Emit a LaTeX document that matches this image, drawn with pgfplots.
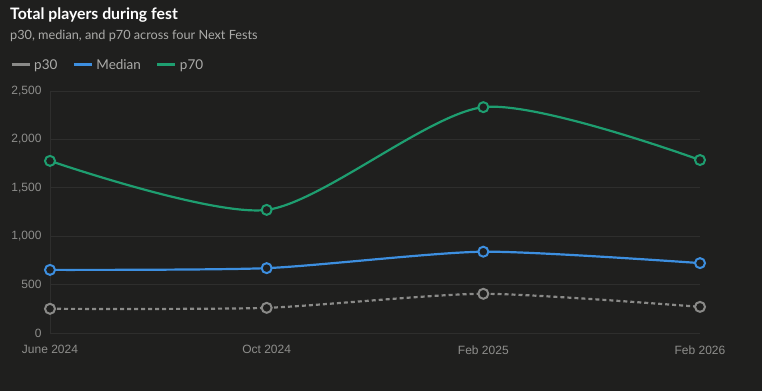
\documentclass[border=0pt]{standalone}
\usepackage{pgfplots}
\pgfplotsset{compat=1.18}
\usepackage{fontspec}
\setmainfont{Liberation Sans}
\newfontfamily\titlefont{Lato}
\definecolor{bg}{HTML}{1F1F1E}
\definecolor{gridc}{HTML}{2E2E2D}
\definecolor{tickc}{HTML}{8E8E8C}
\definecolor{cgray}{HTML}{8A8A88}
\definecolor{cblue}{HTML}{3D8FE0}
\definecolor{cgreen}{HTML}{1E9E70}
\definecolor{subc}{HTML}{ABABA9}
\begin{document}
\begin{tikzpicture}[x=1pt,y=1pt]
\fill[bg] (0,0) rectangle (762,391);
\node[anchor=base west, inner sep=0, text=white, font=\titlefont\bfseries\fontsize{15.8}{18}\selectfont] at (10,371) {Total players during fest};
\node[anchor=base west, inner sep=0, text=subc, font=\titlefont\fontsize{12.7}{15}\selectfont] at (10,351) {p30, median, and p70 across four Next Fests};
\begin{axis}[
  at={(50pt,58pt)}, anchor=origin,
  scale only axis, width=650pt, height=242pt,
  xmin=0, xmax=3, ymin=0, ymax=2500,
  axis line style={draw=none},
  xtick={0,1,2,3},
  xticklabels={June 2024, Oct 2024, Feb 2025, Feb 2026},
  ytick={0,500,1000,1500,2000,2500},
  /pgf/number format/1000 sep={,},
  /pgf/number format/assume math mode=true,
  ticklabel style={text=tickc, font=\fontsize{12}{14}\selectfont},
  xticklabel style={yshift=-9pt},
  yticklabel style={xshift=-5pt},
  major tick length=0pt,
  ymajorgrids, major grid style={gridc, line width=0.8pt},
  extra x ticks={0}, extra x tick labels={},
  extra x tick style={xmajorgrids, ymajorgrids=false, major grid style={gridc, line width=0.8pt}},
  clip=false,
  legend columns=3,
  legend style={at={(axis description cs:-0.0615,1.108)}, anchor=west, draw=none, fill=none,
    inner xsep=0pt, inner ysep=0pt,
    text=subc, font=\titlefont\fontsize{13.5}{15}\selectfont,
    nodes={inner xsep=3pt},
    /tikz/every even column/.append style={column sep=12pt}},
  legend image code/.code={\draw[#1, solid, line width=3pt] (0pt,0pt) -- (18pt,0pt);},
]
\addplot[cgray, line width=2.2pt, dash pattern=on 4pt off 3pt, smooth, tension=0.4,
  mark=*, mark size=5pt, mark options={solid, fill=bg, draw=cgray, line width=2pt}]
  coordinates {(0,250) (1,260) (2,405) (3,270)};
\addlegendentry{p30}
\addplot[cblue, line width=2.2pt, smooth, tension=0.4,
  mark=*, mark size=5pt, mark options={fill=bg, draw=cblue, line width=2pt}]
  coordinates {(0,652) (1,670) (2,840) (3,722)};
\addlegendentry{Median}
\addplot[cgreen, line width=2.2pt, smooth, tension=0.45,
  mark=*, mark size=5pt, mark options={fill=bg, draw=cgreen, line width=2pt}]
  coordinates {(0,1778) (1,1272) (2,2333) (3,1787)};
\addlegendentry{p70}
\end{axis}
\end{tikzpicture}
\end{document}
